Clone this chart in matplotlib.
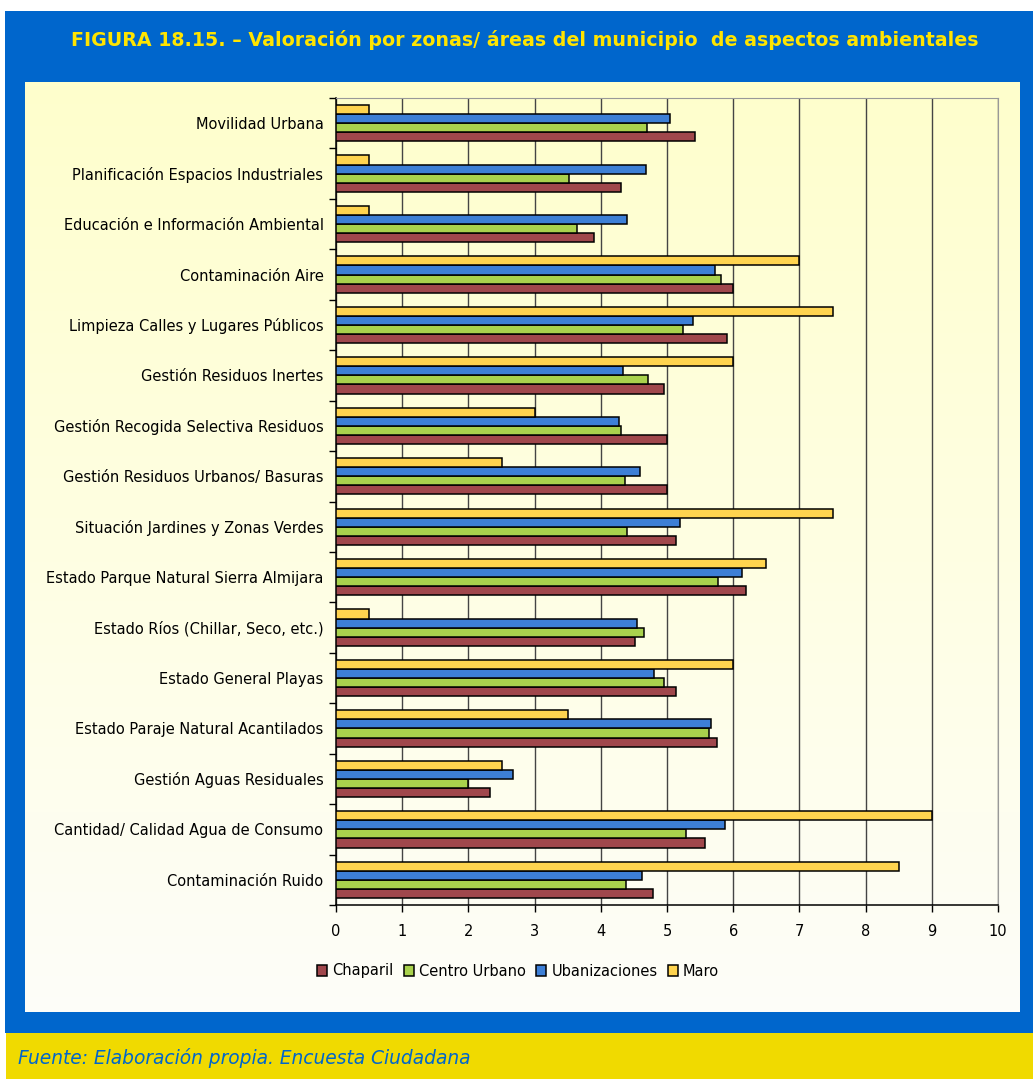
import matplotlib
matplotlib.use("Agg")
import matplotlib.pyplot as plt
import numpy as np
from matplotlib.patches import Rectangle

# data, listed top to bottom as in the chart
categories = [
    "Movilidad Urbana",
    "Planificación Espacios Industriales",
    "Educación e Información Ambiental",
    "Contaminación Aire",
    "Limpieza Calles y Lugares Públicos",
    "Gestión Residuos Inertes",
    "Gestión Recogida Selectiva Residuos",
    "Gestión Residuos Urbanos/ Basuras",
    "Situación Jardines y Zonas Verdes",
    "Estado Parque Natural Sierra Almijara",
    "Estado Ríos (Chillar, Seco, etc.)",
    "Estado General Playas",
    "Estado Paraje Natural Acantilados",
    "Gestión Aguas Residuales",
    "Cantidad/ Calidad Agua de Consumo",
    "Contaminación Ruido",
]
chaparil = [5.43, 4.30, 3.90, 5.99, 5.90, 4.96, 5.00, 5.00, 5.13, 6.20, 4.51, 5.13, 5.75, 2.33, 5.58, 4.79]
centro_urbano = [4.70, 3.52, 3.64, 5.81, 5.24, 4.72, 4.30, 4.37, 4.39, 5.77, 4.65, 4.96, 5.63, 2.00, 5.28, 4.38]
ubanizaciones = [5.05, 4.68, 4.39, 5.73, 5.40, 4.34, 4.28, 4.59, 5.19, 6.13, 4.54, 4.81, 5.66, 2.67, 5.87, 4.62]
maro = [0.5, 0.5, 0.5, 7.0, 7.5, 6.0, 3.0, 2.5, 7.5, 6.5, 0.5, 6.0, 3.5, 2.5, 9.0, 8.5]

series = [
    ("Chaparil", chaparil, "#A0474C"),
    ("Centro Urbano", centro_urbano, "#A9D24D"),
    ("Ubanizaciones", ubanizaciones, "#3D7FD6"),
    ("Maro", maro, "#FFD44F"),
]

W, H = 1033, 1079
fig = plt.figure(figsize=(W / 100, H / 100), dpi=100)
fig.patch.set_facecolor("white")

# background frame in pixel coordinates
bg = fig.add_axes([0, 0, 1, 1])
bg.set_xlim(0, W)
bg.set_ylim(H, 0)
bg.axis("off")
bg.add_patch(Rectangle((5, 11), W - 5, 1022, facecolor="#0066CC", edgecolor="none"))
grad = np.linspace(0, 1, 256).reshape(-1, 1)
top_c = np.array([1.0, 1.0, 0.80])
bot_c = np.array([0.995, 0.995, 0.975])
img = top_c + (bot_c - top_c) * grad[:, :, None]
bg.imshow(img, extent=(25, 1020, 1012, 82), aspect="auto", zorder=1)
bg.add_patch(Rectangle((6, 1033), W - 6, H - 1033, facecolor="#F0DA00", edgecolor="none"))
bg.text(525, 40, "FIGURA 18.15. – Valoración por zonas/ áreas del municipio  de aspectos ambientales",
        ha="center", va="center", color="#FFE400", fontsize=13.7, fontweight="bold")
bg.text(18, 1058, "Fuente: Elaboración propia. Encuesta Ciudadana", ha="left", va="center",
        color="#0066CC", fontsize=13.4, style="italic")

# main chart
left, right, top, bottom = 336, 998, 98, 905
ax = fig.add_axes([left / W, 1 - bottom / H, (right - left) / W, (bottom - top) / H])
ax.patch.set_alpha(0)

n = len(categories)
y = np.arange(n)[::-1]
h = 0.18
offsets = [-1.5 * h, -0.5 * h, 0.5 * h, 1.5 * h]
handles = []
for (name, vals, col), off in zip(series, offsets):
    b = ax.barh(y + off, vals, height=h, color=col, edgecolor="black", linewidth=1.1,
                label=name, zorder=3)
    handles.append(b)

ax.set_xlim(0, 10)
ax.set_ylim(-0.5, n - 0.5)
ax.set_xticks(range(0, 11))
ax.xaxis.grid(True, color="#444444", linewidth=1.0, zorder=0)
ax.set_axisbelow(True)

ax.set_yticks(y)
ax.set_yticklabels(categories)
ax.set_yticks(np.arange(-0.5, n, 1), minor=True)
ax.tick_params(axis="y", which="major", length=0, pad=9, labelsize=10.5)
ax.tick_params(axis="y", which="minor", length=5, width=1, color="black")
ax.tick_params(axis="x", length=5, width=1, pad=9, labelsize=10.5)

for s in ["top", "right"]:
    ax.spines[s].set_color("#999999")
for s in ["left", "bottom"]:
    ax.spines[s].set_color("black")
    ax.spines[s].set_linewidth(1.1)

leg = fig.legend(handles=handles, labels=[s[0] for s in series], loc="center",
                 bbox_to_anchor=(518 / W, 1 - 971 / H), ncol=4, frameon=False,
                 fontsize=10.5, handlelength=0.7, handleheight=0.7, handletextpad=0.35,
                 columnspacing=0.7)

fig.savefig("out.png", dpi=100, facecolor=fig.get_facecolor())
